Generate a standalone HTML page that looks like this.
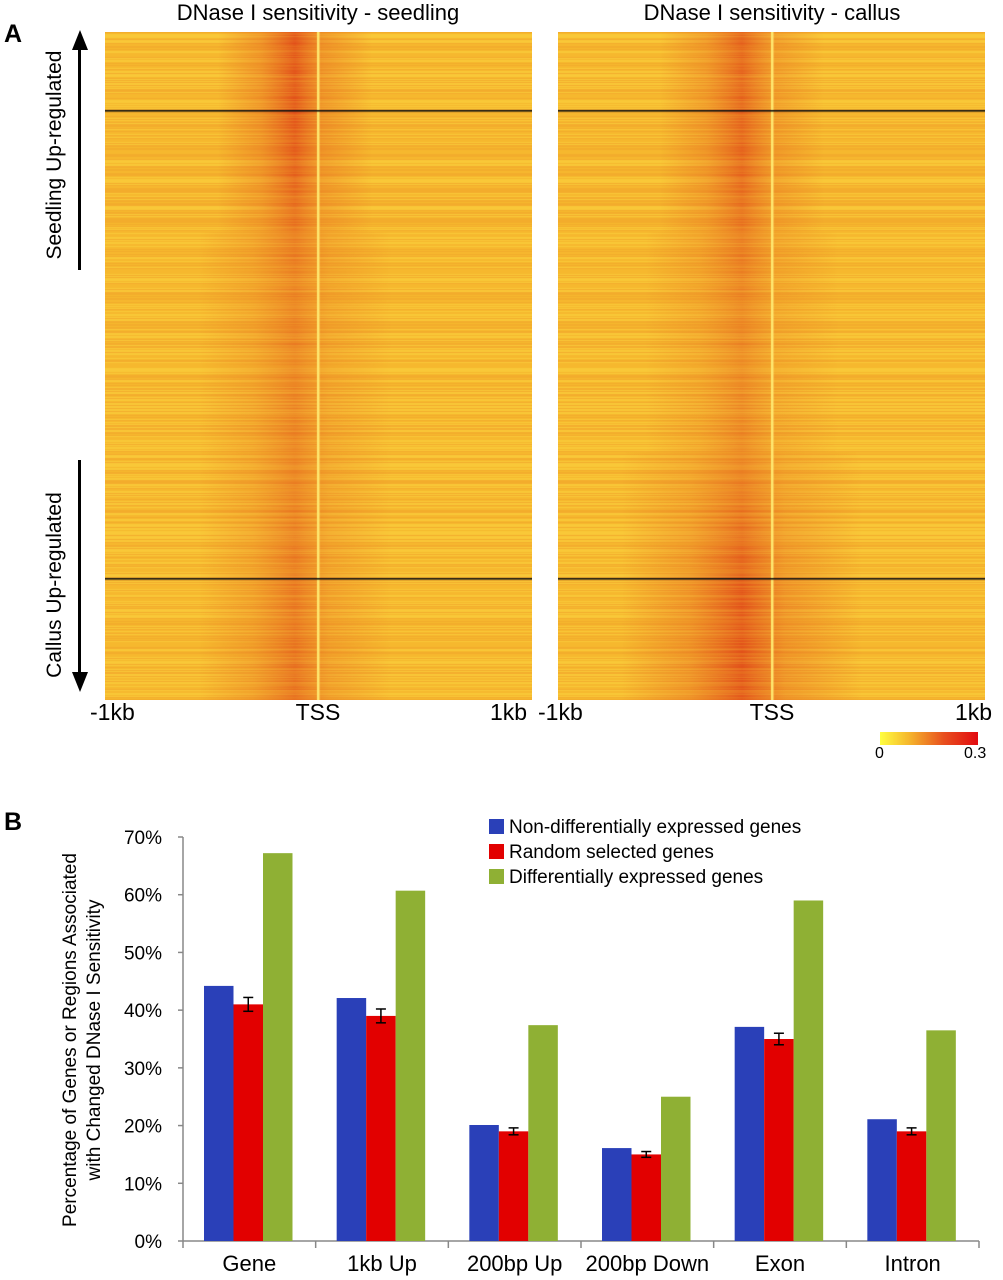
<!DOCTYPE html>
<html><head><meta charset="utf-8"><style>
body{margin:0;background:#fff;width:1003px;height:1280px;position:relative;overflow:hidden;font-family:"Liberation Sans",sans-serif}
.abs{position:absolute}
canvas{position:absolute;top:32px}
</style></head><body>
<div class="abs" style="left:4px;top:20px;font-weight:bold;font-size:25px">A</div>
<div class="abs" style="left:4px;top:808px;font-weight:bold;font-size:25px">B</div>
<div class="abs" style="left:118px;top:0px;width:400px;text-align:center;font-size:22px">DNase I sensitivity - seedling</div>
<div class="abs" style="left:572px;top:0px;width:400px;text-align:center;font-size:22px">DNase I sensitivity - callus</div>

<canvas id="hm1" width="427" height="668" style="left:105px"></canvas>
<canvas id="hm2" width="427" height="668" style="left:558px"></canvas>

<div class="abs" style="left:78px;top:48px;width:3px;height:222px;background:#000"></div>
<div class="abs" style="left:72px;top:30px;width:0;height:0;border-left:8px solid transparent;border-right:8px solid transparent;border-bottom:20px solid #000"></div>
<div class="abs" style="left:78px;top:460px;width:3px;height:214px;background:#000"></div>
<div class="abs" style="left:72px;top:672px;width:0;height:0;border-left:8px solid transparent;border-right:8px solid transparent;border-top:20px solid #000"></div>
<div class="abs" style="left:-95px;top:143px;width:300px;white-space:nowrap;text-align:center;font-size:21px;transform:rotate(-90deg)">Seedling Up-regulated</div>
<div class="abs" style="left:-95px;top:573px;width:300px;white-space:nowrap;text-align:center;font-size:21px;transform:rotate(-90deg)">Callus Up-regulated</div>

<div class="abs" style="left:90px;top:699px;font-size:23px">-1kb</div>
<div class="abs" style="left:268px;top:699px;width:100px;text-align:center;font-size:23px">TSS</div>
<div class="abs" style="left:490px;top:699px;font-size:23px">1kb</div>
<div class="abs" style="left:538px;top:699px;font-size:23px">-1kb</div>
<div class="abs" style="left:722px;top:699px;width:100px;text-align:center;font-size:23px">TSS</div>
<div class="abs" style="left:955px;top:699px;font-size:23px">1kb</div>

<div class="abs" style="left:880px;top:732px;width:98px;height:13px;background:linear-gradient(90deg,#ffff40,#f5b52c 30%,#e8501e 65%,#e20a10)"></div>
<div class="abs" style="left:875px;top:745px;font-size:16px">0</div>
<div class="abs" style="left:964px;top:745px;font-size:16px">0.3</div>

<svg id="chart" class="abs" style="left:0;top:0" width="1003" height="1280">
 <text transform="translate(76,1040) rotate(-90)" text-anchor="middle" font-size="19" font-family="Liberation Sans"><tspan x="0" y="0">Percentage of Genes or Regions Associated</tspan><tspan x="0" y="24">with Changed DNase I Sensitivity</tspan></text>
</svg>
<script>
// heatmap texture (decorative)
function frac(v){return v-Math.floor(v);}
function drawHM(id,prof,center,halfw,tss){
 const c=document.getElementById(id).getContext('2d');
 for(let r=0;r<668;r+=1){
  const n=frac(Math.sin(r*12.9898+id.length*7)*43758.5453);
  const n2=frac(Math.sin(r*3.1+1.7)*9999.1);
  const b=[[249,200,56],[246,184,46],[243,172,44]][Math.floor(n*3)];
  c.fillStyle=`rgb(${b[0]},${b[1]},${b[2]})`;c.fillRect(0,r,427,1);
  const I=prof(r)*(0.8+0.4*n2);
  const hw=halfw(r);
  const g=c.createLinearGradient(center-2.4*hw,0,center+2.4*hw,0);
  g.addColorStop(0,'rgba(225,60,25,0)');
  g.addColorStop(0.28,`rgba(225,70,25,${0.3*I})`);
  g.addColorStop(0.5,`rgba(220,50,20,${0.65*I})`);
  g.addColorStop(0.68,`rgba(225,70,25,${0.3*I})`);
  g.addColorStop(1,'rgba(225,60,25,0)');
  c.fillStyle=g;c.fillRect(0,r,427,1);
 }
 c.fillStyle='#ffe870';c.fillRect(tss,0,2.5,668);
 c.fillStyle='#111';c.fillRect(0,78,427,1.6);c.fillRect(0,546,427,1.6);
}
drawHM('hm1',r=>r<90?1.0:r<250?1.0-(r-90)/160*0.45:r<450?0.55:0.55+(r-450)/218*0.2,190,r=>r<200?32:40,212);
drawHM('hm2',r=>r<120?0.85:r<280?0.85-(r-120)/160*0.35:r<420?0.5:0.5+Math.min(1,(r-420)/150)*0.5,184,r=>r<200?34:r<420?40:50,213);

const categories=["Gene","1kb Up","200bp Up","200bp Down","Exon","Intron"];
const nonDiff=[44.2,42.1,20.1,16.1,37.1,21.1];
const randomSel=[41,39,19,15,35,19];
const randomErr=[1.2,1.2,0.6,0.5,1.0,0.6];
const diffExpr=[67.2,60.7,37.4,25,59,36.5];
const yTicks=[0,10,20,30,40,50,60,70];
const seriesNames=["Non-differentially expressed genes","Random selected genes","Differentially expressed genes"];
const colors=["#2a40b8","#e20000","#8fb034"];
const svg=document.getElementById('chart');const NS="http://www.w3.org/2000/svg";
const x0=183,x1=979,yb=1241,yt=837;
const y=v=>yb-(yb-yt)*v/70;
const cw=(x1-x0)/categories.length;
function mk(t,a){const e=document.createElementNS(NS,t);for(const k in a)e.setAttribute(k,a[k]);svg.appendChild(e);return e;}
let ax=mk('line',{x1:x0,y1:yt,x2:x0,y2:yb,stroke:'#888','stroke-width':1.5});


let bx=mk('line',{x1:x0,y1:yb,x2:x1,y2:yb,stroke:'#888','stroke-width':1.5});


yTicks.forEach(t=>{mk('line',{x1:x0-5,y1:y(t),x2:x0,y2:y(t),stroke:'#888','stroke-width':1.5});
 const tx=mk('text',{x:162,y:y(t)+7,'text-anchor':'end','font-size':19,'font-family':'Liberation Sans'});tx.textContent=t+'%';
 
 });
for(let i=0;i<=categories.length;i++)mk('line',{x1:x0+i*cw,y1:yb,x2:x0+i*cw,y2:yb+7,stroke:'#888','stroke-width':1.5});
const series=[nonDiff,randomSel,diffExpr];const bw=29.5;
categories.forEach((c,i)=>{const gx=x0+i*cw+21;
 series.forEach((s,j)=>{const r=mk('rect',{x:gx+j*bw,y:y(s[i]),width:bw,height:yb-y(s[i]),fill:colors[j]});
  
  });
 const cx=gx+1.5*bw,e=randomErr[i],v=randomSel[i];
 mk('line',{x1:cx,y1:y(v+e),x2:cx,y2:y(v-e),stroke:'#000','stroke-width':1.5});
 mk('line',{x1:cx-5,y1:y(v+e),x2:cx+5,y2:y(v+e),stroke:'#000','stroke-width':1.5});
 mk('line',{x1:cx-5,y1:y(v-e),x2:cx+5,y2:y(v-e),stroke:'#000','stroke-width':1.5});
 const t=mk('text',{x:x0+(i+.5)*cw,y:1271,'text-anchor':'middle','font-size':22,'font-family':'Liberation Sans'});t.textContent=c;
 
 });
seriesNames.forEach((n,j)=>{const r=mk('rect',{x:489,y:819+j*25,width:15,height:15,fill:colors[j]});
 
 
 const t=mk('text',{x:509,y:833+j*25,'font-size':19,'font-family':'Liberation Sans'});t.textContent=n;
 
 });
</script>
</body></html>
